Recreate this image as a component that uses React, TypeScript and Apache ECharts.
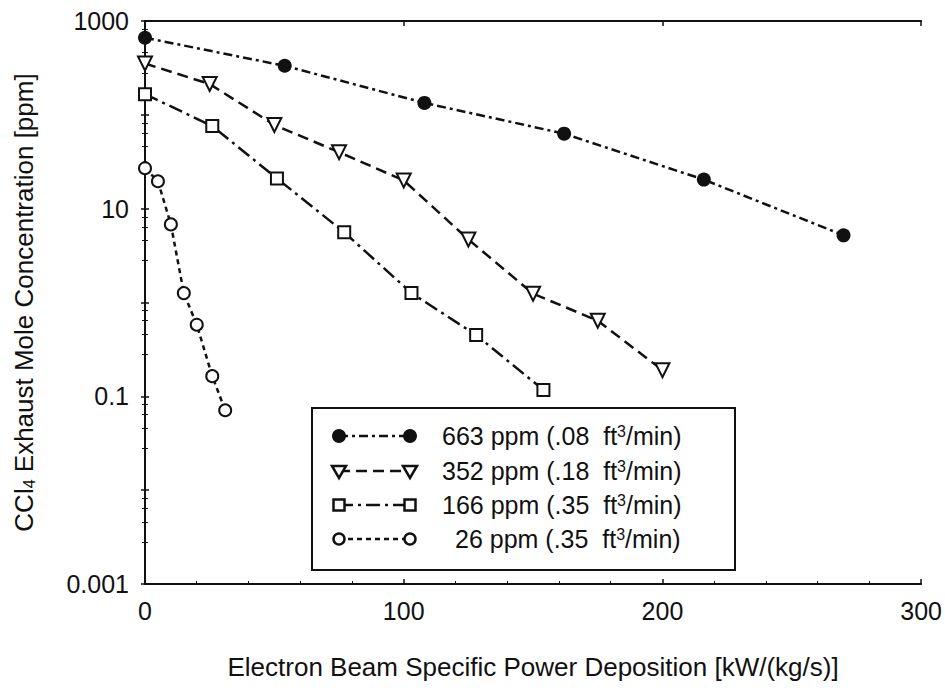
import React, { useEffect, useRef } from "react";
import * as echarts from "echarts";

// ---- data ----
const xTickValues = [0, 100, 200, 300];
const yTickExponents = [-3, -1, 1, 3];
const yTickLabels = ["0.001", "0.1", "10", "1000"];

const seriesNames = [
  "663 ppm (.08 ft³/min)",
  "352 ppm (.18 ft³/min)",
  "166 ppm (.35 ft³/min)",
  "26 ppm (.35 ft³/min)",
];
const legendRich = [
  "663 ppm (.08  ft{sup|3}/min)",
  "352 ppm (.18  ft{sup|3}/min)",
  "166 ppm (.35  ft{sup|3}/min)",
  "26 ppm (.35  ft{sup|3}/min)",
];

const x663 = [0, 54, 108, 162, 216, 270];
const y663 = [663, 333, 134, 63, 20.4, 5.2];

const x352 = [0, 25, 50, 75, 100, 125, 150, 175, 200];
const y352 = [352, 213, 78, 40, 20, 4.7, 1.24, 0.64, 0.19];

const x166 = [0, 26, 51, 77, 103, 128, 154];
const y166 = [166, 76, 21, 5.6, 1.26, 0.45, 0.117];

const x26 = [0, 5, 10, 15, 20, 26, 31];
const y26 = [27, 19.6, 6.8, 1.26, 0.58, 0.164, 0.071];

const FONT = "'Liberation Sans Narrow', 'Arial Narrow', 'Liberation Sans', Arial, sans-serif";
const INK = "#111";

const pair = (xs: number[], ys: number[]) => xs.map((x, i) => [x, ys[i]]);

export default function App() {
  const ref = useRef<HTMLDivElement>(null);

  useEffect(() => {
    if (!ref.current) return;
    const chart = echarts.init(ref.current, null, { renderer: "svg" });

    const yLabel = (v: number) => {
      const e = Math.round(Math.log10(v));
      const idx = yTickExponents.indexOf(e);
      return idx >= 0 ? yTickLabels[idx] : "";
    };

    const lineStyles: any[] = [
      { type: [9, 4, 3, 4] },
      { type: [11, 6] },
      { type: [14, 5, 3, 5] },
      { type: [5, 4] },
    ];
    const symbols = ["circle", "emptyTriangle", "emptyRect", "emptyCircle"];
    const symbolSizes = [14, 14, 12, 12];
    const datasets = [pair(x663, y663), pair(x352, y352), pair(x166, y166), pair(x26, y26)];

    const series = datasets.map((d, i) => ({
      name: seriesNames[i],
      type: "line",
      data: d,
      symbol: symbols[i],
      symbolSize: symbolSizes[i],
      symbolRotate: i === 1 ? 180 : 0,
      showAllSymbol: true,
      lineStyle: { color: INK, width: 2.5, ...lineStyles[i] },
      itemStyle: { color: INK, borderColor: INK, borderWidth: i === 0 ? 0 : 2.5 },
      z: 3,
    }));

    // legend (drawn as graphics)
    const lx0 = 339, lx1 = 410, rowY = [436, 471, 505, 539];
    const legendEls: any[] = [
      {
        type: "rect",
        shape: { x: 312, y: 408, width: 423, height: 162 },
        style: { fill: "#fff", stroke: INK, lineWidth: 2 },
        z: 10,
      },
    ];
    const drawSym = (i: number, cx: number, cy: number) => {
      if (i === 0) return { type: "circle", shape: { cx, cy, r: 7 }, style: { fill: INK }, z: 12 };
      if (i === 1)
        return {
          type: "polygon",
          shape: { points: [[cx - 7, cy - 5], [cx + 7, cy - 5], [cx, cy + 7]] },
          style: { fill: "#fff", stroke: INK, lineWidth: 2.5 },
          z: 12,
        };
      if (i === 2)
        return {
          type: "rect",
          shape: { x: cx - 5.5, y: cy - 5.5, width: 11, height: 11 },
          style: { fill: "#fff", stroke: INK, lineWidth: 2.5 },
          z: 12,
        };
      return { type: "circle", shape: { cx, cy, r: 5.5 }, style: { fill: "#fff", stroke: INK, lineWidth: 2.5 }, z: 12 };
    };
    rowY.forEach((y, i) => {
      legendEls.push({
        type: "line",
        shape: { x1: lx0, y1: y, x2: lx1, y2: y },
        style: { stroke: INK, lineWidth: 2.5, lineDash: lineStyles[i].type },
        z: 11,
      });
      legendEls.push(drawSym(i, lx0, y));
      legendEls.push(drawSym(i, lx1, y));
      legendEls.push({
        type: "text",
        x: i === 3 ? 455 : 442,
        y,
        style: {
          text: legendRich[i],
          fontSize: 25,
          fontFamily: FONT,
          fill: INK,
          verticalAlign: "middle",
          align: "left",
          rich: {
            sup: { fontSize: 16, fontFamily: FONT, fill: INK, verticalAlign: "top", padding: [0, 0, 6, 0] },
          },
        },
        z: 12,
      });
    });

    const option: any = {
      animation: false,
      backgroundColor: "#fff",
      textStyle: { fontFamily: FONT, color: INK },
      grid: { left: 145, right: 23, top: 21, bottom: 108, containLabel: false },
      xAxis: [
        {
          type: "value",
          min: 0,
          max: 300,
          interval: 100,
          name: "Electron Beam Specific Power Deposition [kW/(kg/s)]",
          nameLocation: "middle",
          nameGap: 70,
          nameTextStyle: { fontSize: 26, fontFamily: FONT, color: INK },
          axisLine: { show: true, lineStyle: { color: INK, width: 2 } },
          axisTick: { show: true, inside: true, length: 5, lineStyle: { color: INK, width: 1.5 } },
          minorTick: { show: true, splitNumber: 5, length: 3, lineStyle: { color: INK } },
          axisLabel: {
            fontSize: 25,
            fontFamily: FONT,
            color: INK,
            margin: 14,
            formatter: (v: number) => (xTickValues.includes(v) ? String(v) : ""),
          },
          splitLine: { show: false },
        },
        {
          type: "value",
          position: "top",
          min: 0,
          max: 300,
          interval: 100,
          axisLine: { show: true, lineStyle: { color: INK, width: 2 } },
          axisTick: { show: true, inside: true, length: 5, lineStyle: { color: INK, width: 1.5 } },
          axisLabel: { show: false },
          splitLine: { show: false },
        },
      ],
      yAxis: [
        {
          type: "log",
          logBase: 10,
          min: 0.001,
          max: 1000,
          name: "CCl{sub|4} Exhaust Mole Concentration [ppm]",
          nameLocation: "middle",
          nameGap: 108,
          nameRotate: 90,
          nameTextStyle: {
            fontSize: 26,
            fontFamily: FONT,
            color: INK,
            rich: { sub: { fontSize: 16, fontFamily: FONT, color: INK, verticalAlign: "bottom", padding: [10, 0, 0, 0] } },
          },
          axisLine: { show: true, lineStyle: { color: INK, width: 2 } },
          axisTick: { show: true, inside: true, length: 4, lineStyle: { color: INK, width: 1.5 } },
          minorTick: { show: true, splitNumber: 5, length: 3, lineStyle: { color: INK } },
          axisLabel: { fontSize: 25, fontFamily: FONT, color: INK, margin: 16, formatter: yLabel },
          splitLine: { show: false },
        },
        {
          type: "log",
          logBase: 10,
          min: 0.001,
          max: 1000,
          position: "right",
          axisLine: { show: true, lineStyle: { color: INK, width: 2 } },
          axisTick: { show: true, inside: true, length: 4, lineStyle: { color: INK, width: 1.5 } },
          minorTick: { show: true, splitNumber: 5, length: 3, lineStyle: { color: INK } },
          axisLabel: { show: false },
          splitLine: { show: false },
        },
      ],
      series,
      graphic: legendEls,
    };

    chart.setOption(option);
    return () => chart.dispose();
  }, []);

  return (
    <div
      ref={ref}
      style={{ position: "fixed", left: 0, top: 0, width: 945, height: 692, background: "#fff" }}
    />
  );
}
